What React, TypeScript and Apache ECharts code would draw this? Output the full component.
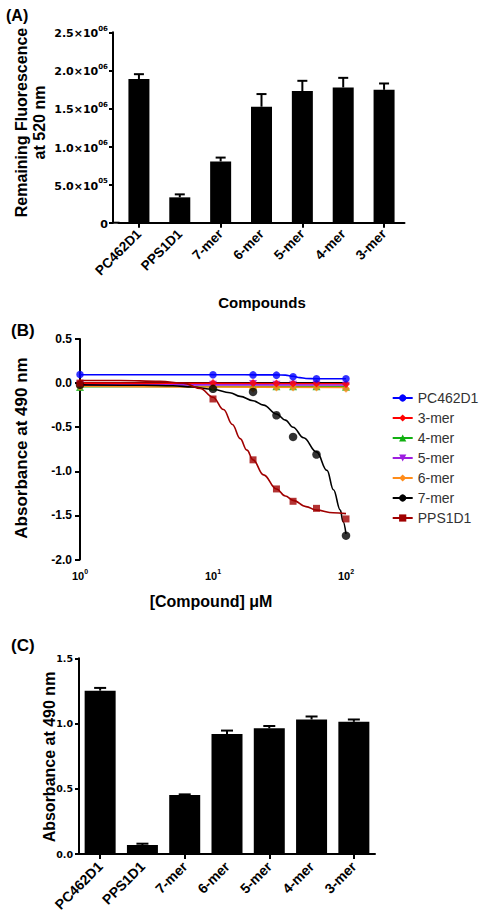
import React, { useEffect, useRef } from 'react';
import * as echarts from 'echarts';

// ---------- Panel A ----------
const compoundsA = ['PC462D1', 'PPS1D1', '7-mer', '6-mer', '5-mer', '4-mer', '3-mer'];
const fluorMean = [1.887e6, 0.333e6, 0.805e6, 1.523e6, 1.728e6, 1.776e6, 1.745e6];
const fluorUpper = [1.95e6, 0.372e6, 0.855e6, 1.689e6, 1.863e6, 1.902e6, 1.828e6];

// ---------- Panel B ----------
const concB = [1, 10, 20, 30, 40, 60, 100];
const legendNamesB = ['PC462D1', '3-mer', '4-mer', '5-mer', '6-mer', '7-mer', 'PPS1D1'];
const ptsPC462D1 = [0.097, 0.095, 0.093, 0.09, 0.072, 0.048, 0.048];
const pts3mer = [0.0, 0.0, 0.0, -0.005, -0.005, -0.005, -0.01];
const pts4mer = [-0.045, -0.04, -0.035, -0.035, -0.035, -0.035, -0.04];
const pts5mer = [-0.02, -0.02, -0.01, -0.02, -0.02, -0.02, -0.03];
const pts6mer = [-0.04, -0.04, -0.065, -0.05, -0.05, -0.05, -0.065];
const pts7mer = [-0.02, -0.065, -0.1, -0.365, -0.61, -0.81, -1.73];
const ptsPPS1D1 = [0.0, -0.18, -0.87, -1.2, -1.34, -1.42, -1.54];

const fitXPC462D1 = [1, 10, 30, 35, 40, 45, 50, 60, 100];
const fitYPC462D1 = [0.095, 0.095, 0.093, 0.09, 0.078, 0.062, 0.052, 0.049, 0.049];
const fitX3mer = [1, 10, 100];
const fitY3mer = [0.0, -0.003, -0.008];
const fitX4mer = [1, 10, 100];
const fitY4mer = [-0.04, -0.038, -0.038];
const fitX5mer = [1, 10, 100];
const fitY5mer = [-0.02, -0.02, -0.022];
const fitX6mer = [1, 10, 100];
const fitY6mer = [-0.035, -0.045, -0.05];
const fitX7mer = [1, 3, 5, 7, 10, 13.4, 16, 20, 24, 30, 35, 40, 48, 60, 72, 80.5, 90.6, 95, 100];
const fitY7mer = [-0.02, -0.025, -0.03, -0.045, -0.07, -0.11, -0.15, -0.2, -0.25, -0.35, -0.42, -0.5, -0.62, -0.78, -0.99, -1.21, -1.44, -1.57, -1.71];
const fitXPPS1D1 = [1, 2, 4, 6, 8, 10, 12, 14, 16, 18, 20, 24, 30, 35, 40, 50, 60, 80, 100];
const fitYPPS1D1 = [0.03, 0.03, 0.02, 0.0, -0.06, -0.16, -0.3, -0.47, -0.63, -0.76, -0.87, -1.04, -1.2, -1.28, -1.33, -1.4, -1.44, -1.47, -1.48];

// ---------- Panel C ----------
const compoundsC = ['PC462D1', 'PPS1D1', '7-mer', '6-mer', '5-mer', '4-mer', '3-mer'];
const absMeanC = [1.252, 0.069, 0.452, 0.919, 0.963, 1.031, 1.013];
const absUpperC = [1.273, 0.079, 0.457, 0.946, 0.981, 1.054, 1.031];

const ARIAL = '"Liberation Sans", Arial, sans-serif';
const DEJAVU = '"DejaVu Sans", sans-serif';

function errorSeries(xi: number, yi: number, means: number[], uppers: number[], cap: number) {
  return {
    type: 'custom',
    xAxisIndex: xi,
    yAxisIndex: yi,
    z: 4,
    data: means.map((m, i) => [i, m, uppers[i]]),
    encode: { x: 0, y: [1, 2] },
    renderItem: (params: any, api: any) => {
      const base = api.coord([api.value(0), api.value(1)]);
      const top = api.coord([api.value(0), api.value(2)]);
      const style = { stroke: '#000', lineWidth: 2 };
      return {
        type: 'group',
        children: [
          { type: 'line', shape: { x1: base[0], y1: base[1], x2: top[0], y2: top[1] }, style },
          { type: 'line', shape: { x1: top[0] - cap, y1: top[1], x2: top[0] + cap, y2: top[1] }, style },
        ],
      };
    },
  };
}

function fitSeries(name: string, xs: number[], ys: number[], color: string, symbol: string, rotate = 0) {
  return {
    type: 'line',
    name,
    xAxisIndex: 1,
    yAxisIndex: 1,
    data: xs.map((x, i) => [x, ys[i]]),
    smooth: 0.4,
    smoothMonotone: 'x',
    showSymbol: false,
    symbol,
    symbolRotate: rotate,
    lineStyle: { color, width: 1.6 },
    itemStyle: { color },
    z: 2,
  };
}

function pointSeries(name: string, ys: number[], color: string, symbol: string, size: number, rotate = 0) {
  return {
    type: 'scatter',
    name: name + ' data',
    xAxisIndex: 1,
    yAxisIndex: 1,
    data: concB.map((x, i) => [x, ys[i]]),
    symbol,
    symbolSize: size,
    symbolRotate: rotate,
    itemStyle: { color },
    z: 3,
  };
}

const axisLine = { show: true, lineStyle: { color: '#000', width: 2 } };
const axisTick = (len: number) => ({ show: true, length: len, lineStyle: { color: '#000', width: 2 } });

export default function App() {
  const ref = useRef<HTMLDivElement>(null);
  useEffect(() => {
    if (!ref.current) return;
    const chart = echarts.init(ref.current, undefined, { renderer: 'svg' });
    const baseGraphics: any[] = [
      { type: 'line', shape: { x1: 112, y1: 222.7, x2: 119.5, y2: 222.7 }, style: { stroke: '#000', lineWidth: 2 } },
      { type: 'text', x: 6, y: 15.5, style: { text: '(A)', fontFamily: ARIAL, fontWeight: 'bold', fontSize: 16, fill: '#000', verticalAlign: 'middle' } },
      { type: 'text', x: 11, y: 330.5, style: { text: '(B)', fontFamily: ARIAL, fontWeight: 'bold', fontSize: 17, fill: '#000', verticalAlign: 'middle' } },
      { type: 'text', x: 11, y: 645, style: { text: '(C)', fontFamily: ARIAL, fontWeight: 'bold', fontSize: 17, fill: '#000', verticalAlign: 'middle' } },
      {
        type: 'text', x: 30.5, y: 122.5, rotation: Math.PI / 2,
        style: { text: 'Remaining Fluorescence\nat 520 nm', fontFamily: ARIAL, fontWeight: 'bold', fontSize: 16, lineHeight: 17.5, fill: '#000', align: 'center', verticalAlign: 'middle' },
      },
      { type: 'text', x: 262, y: 302, style: { text: 'Compounds', fontFamily: ARIAL, fontWeight: 'bold', fontSize: 15, fill: '#000', align: 'center', verticalAlign: 'middle' } },
      {
        type: 'text', x: 21, y: 448, rotation: Math.PI / 2,
        style: { text: 'Absorbance at 490 nm', fontFamily: ARIAL, fontWeight: 'bold', fontSize: 17, fill: '#000', align: 'center', verticalAlign: 'middle' },
      },
      { type: 'text', x: 211, y: 601.5, style: { text: '[Compound] μM', fontFamily: ARIAL, fontWeight: 'bold', fontSize: 16, fill: '#000', align: 'center', verticalAlign: 'middle' } },
      {
        type: 'text', x: 49, y: 757, rotation: Math.PI / 2,
        style: { text: 'Absorbance at 490 nm', fontFamily: ARIAL, fontWeight: 'bold', fontSize: 16, fill: '#000', align: 'center', verticalAlign: 'middle' },
      },
    ];
    const option: any = {
      animation: false,
      backgroundColor: '#fff',
      grid: [
        { left: 118.5, top: 32.3, width: 286, height: 190.4 },
        { left: 80, top: 339, width: 266, height: 220.5 },
        { left: 79, top: 658.3, width: 296, height: 195.7 },
      ],
      xAxis: [
        {
          type: 'category', gridIndex: 0, data: compoundsA,
          axisLine, axisTick: { ...axisTick(5), alignWithLabel: true },
          axisLabel: { show: false },
        },
        {
          type: 'log', logBase: 10, gridIndex: 1, min: 1, max: 100,
          axisLine, axisTick: axisTick(5), splitLine: { show: false }, minorTick: { show: false },
          axisLabel: {
            margin: 8,
            formatter: (v: number) => '{m|10}{s|' + Math.round(Math.log10(v)) + '}',
            rich: {
              m: { fontFamily: ARIAL, fontWeight: 'bold', fontSize: 11, color: '#000', lineHeight: 14, verticalAlign: 'bottom' },
              s: { fontFamily: ARIAL, fontWeight: 'bold', fontSize: 7, color: '#000', lineHeight: 8, verticalAlign: 'top' },
            },
          },
        },
        {
          type: 'category', gridIndex: 2, data: compoundsC,
          axisLine, axisTick: { ...axisTick(5), alignWithLabel: true },
          axisLabel: { show: false },
        },
      ],
      yAxis: [
        {
          type: 'value', gridIndex: 0, min: 0, max: 2.5e6, interval: 5e5, offset: 5.5,
          axisLine, axisTick: axisTick(4), splitLine: { show: false },
          axisLabel: {
            margin: 5,
            formatter: (v: number) => {
              if (v === 0) return '{m|0}';
              const e = Math.floor(Math.log10(v) + 1e-9);
              const m = v / Math.pow(10, e);
              return '{m|' + m.toFixed(1) + '×10}{s|' + String(e).padStart(2, '0') + '}';
            },
            rich: {
              m: { fontFamily: DEJAVU, fontWeight: 'bold', fontSize: 11, color: '#000', lineHeight: 14, verticalAlign: 'bottom' },
              s: { fontFamily: DEJAVU, fontWeight: 'bold', fontSize: 7, color: '#000', lineHeight: 8, verticalAlign: 'top' },
            },
          },
        },
        {
          type: 'value', gridIndex: 1, min: -2, max: 0.5, interval: 0.5,
          axisLine, axisTick: axisTick(5), splitLine: { show: false },
          axisLabel: { margin: 8, color: '#000', fontFamily: ARIAL, fontWeight: 'bold', fontSize: 12, formatter: (v: number) => v.toFixed(1) },
        },
        {
          type: 'value', gridIndex: 2, min: 0, max: 1.5, interval: 0.5,
          axisLine, axisTick: axisTick(4), splitLine: { show: false },
          axisLabel: { margin: 6, color: '#000', fontFamily: DEJAVU, fontWeight: 'bold', fontSize: 9.5, formatter: (v: number) => v.toFixed(1) },
        },
      ],
      legend: {
        orient: 'vertical',
        left: 386.7,
        top: 386,
        itemWidth: 20,
        itemHeight: 9,
        itemGap: 6,
        data: legendNamesB,
        lineStyle: { width: 2 },
        textStyle: { fontFamily: ARIAL, fontSize: 14, color: '#333' },
      },
      series: [
        { type: 'bar', xAxisIndex: 0, yAxisIndex: 0, data: fluorMean, barWidth: 21, itemStyle: { color: '#000' }, z: 2 },
        errorSeries(0, 0, fluorMean, fluorUpper, 5),
        fitSeries('PC462D1', fitXPC462D1, fitYPC462D1, '#0000ff', 'circle'),
        fitSeries('3-mer', fitX3mer, fitY3mer, '#ff0000', 'diamond'),
        fitSeries('4-mer', fitX4mer, fitY4mer, '#11b011', 'triangle'),
        fitSeries('5-mer', fitX5mer, fitY5mer, '#9d1de0', 'triangle', 180),
        fitSeries('6-mer', fitX6mer, fitY6mer, '#ff8c1a', 'diamond'),
        fitSeries('7-mer', fitX7mer, fitY7mer, '#000000', 'circle'),
        fitSeries('PPS1D1', fitXPPS1D1, fitYPPS1D1, '#a00000', 'rect'),
        pointSeries('4-mer', pts4mer, '#11b011', 'triangle', 8),
        pointSeries('5-mer', pts5mer, '#9d1de0', 'triangle', 8, 180),
        pointSeries('6-mer', pts6mer, '#ff8c1a', 'diamond', 8),
        pointSeries('3-mer', pts3mer, '#ff0000', 'diamond', 8),
        pointSeries('7-mer', pts7mer, '#000000', 'circle', 8.5),
        pointSeries('PPS1D1', ptsPPS1D1, '#a00000', 'rect', 7),
        pointSeries('PC462D1', ptsPC462D1, '#0000ff', 'circle', 7.5),
        { type: 'bar', xAxisIndex: 2, yAxisIndex: 2, data: absMeanC, barWidth: 31, itemStyle: { color: '#000' }, z: 2 },
        errorSeries(2, 2, absMeanC, absUpperC, 6),
      ],
      graphic: baseGraphics,
    };
    chart.setOption(option);

    // Rotated category labels placed at the axis ticks (positions from the axes' own scales)
    const labelGraphics: any[] = [];
    const addLabels = (xi: number, yi: number, cats: string[], margin: number, size: number) => {
      const y0 = chart.convertToPixel({ yAxisIndex: yi } as any, 0) as unknown as number;
      cats.forEach((c) => {
        const x = chart.convertToPixel({ xAxisIndex: xi } as any, c) as unknown as number;
        labelGraphics.push({
          type: 'text', x, y: y0 + margin, rotation: Math.PI / 4,
          style: { text: c, fontFamily: ARIAL, fontWeight: 'bold', fontSize: size, fill: '#000', align: 'right', verticalAlign: 'middle' },
        });
      });
    };
    addLabels(0, 0, compoundsA, 9, 13.5);
    addLabels(2, 2, compoundsC, 10, 14);
    chart.setOption({ graphic: [...baseGraphics, ...labelGraphics] });

    return () => chart.dispose();
  }, []);
  return <div ref={ref} style={{ position: 'absolute', left: 0, top: 0, width: 483, height: 923, background: '#fff' }} />;
}
